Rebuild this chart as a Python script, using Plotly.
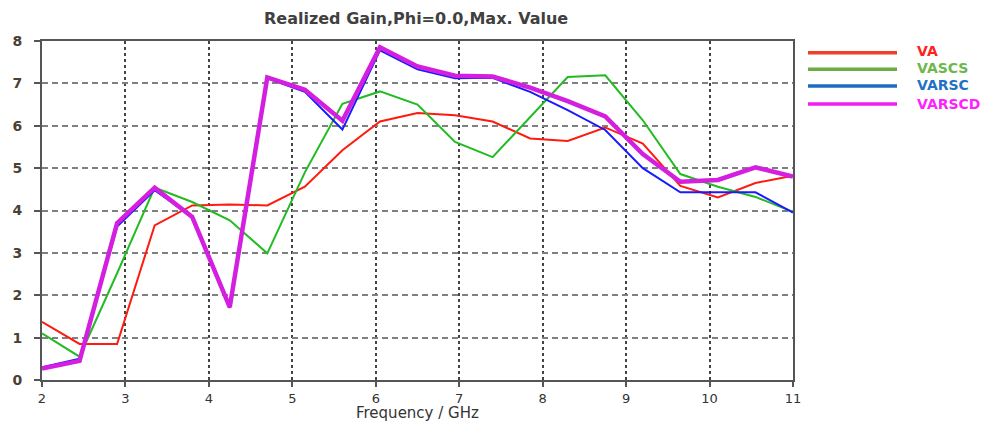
import plotly.graph_objects as go

# ---- data ----
freq = [2.0, 2.45, 2.9, 3.35, 3.8, 4.25, 4.7, 5.15, 5.6, 6.05, 6.5,
        6.95, 7.4, 7.85, 8.3, 8.75, 9.2, 9.65, 10.1, 10.55, 11.0]
va = [1.37, 0.85, 0.85, 3.65, 4.12, 4.14, 4.12, 4.56, 5.42, 6.10, 6.30,
      6.25, 6.10, 5.70, 5.64, 5.96, 5.58, 4.58, 4.31, 4.65, 4.82]
vascs = [1.10, 0.55, 2.52, 4.54, 4.20, 3.77, 2.99, 4.90, 6.52, 6.81, 6.50,
         5.62, 5.26, 6.20, 7.15, 7.19, 6.13, 4.86, 4.56, 4.32, 3.97]
varsc = [0.30, 0.50, 3.62, 4.48, 3.85, 1.70, 7.12, 6.80, 5.91, 7.78, 7.33,
         7.12, 7.13, 6.80, 6.37, 5.90, 5.00, 4.43, 4.43, 4.43, 3.95]
varscd = [0.27, 0.45, 3.70, 4.54, 3.85, 1.72, 7.14, 6.85, 6.12, 7.85, 7.40,
          7.18, 7.16, 6.90, 6.58, 6.22, 5.33, 4.68, 4.72, 5.02, 4.80]

series_names = ["VA", "VASCS", "VARSC", "VARSCD"]
series_values = [va, vascs, varsc, varscd]
line_colors = ["#ff1a10", "#22bb22", "#1a1aff", "#d41ee0"]
line_widths = [2, 2, 2, 4.5]
legend_line_colors = ["#ef3f2a", "#6aac42", "#1f6dc0", "#f01ef0"]
legend_text_colors = ["#ff2020", "#6cb84c", "#1f72c4", "#ff22ff"]

x_ticks = [2, 3, 4, 5, 6, 7, 8, 9, 10, 11]
y_ticks = [0, 1, 2, 3, 4, 5, 6, 7, 8]

W, H = 993, 421
ML, MR, MT, MB = 42, 200, 41, 41
PW = W - ML - MR
PH = H - MT - MB


def px(xp):
    return (xp - ML) / PW


def py(yp):
    return (H - MB - yp) / PH


fig = go.Figure()
for name, vals, c, w in zip(series_names, series_values, line_colors, line_widths):
    fig.add_trace(go.Scatter(x=freq, y=vals, mode="lines", name=name,
                             line=dict(color=c, width=w), showlegend=False))

# custom legend
leg_line_y = [52.7, 69.3, 86.0, 104.0]
leg_text_y = [50.5, 67.5, 85.0, 103.5]
for i, name in enumerate(series_names):
    fig.add_shape(type="line", xref="paper", yref="paper",
                  x0=px(808), x1=px(897), y0=py(leg_line_y[i]), y1=py(leg_line_y[i]),
                  line=dict(color=legend_line_colors[i], width=3.5))
    fig.add_annotation(xref="paper", yref="paper", x=px(915), y=py(leg_text_y[i]),
                       xanchor="left", yanchor="middle", showarrow=False,
                       text="<b>%s</b>" % name,
                       font=dict(family="DejaVu Sans", size=14, color=legend_text_colors[i]))

# x axis title
fig.add_annotation(xref="paper", yref="paper", x=px(417), y=py(413),
                   xanchor="center", yanchor="middle", showarrow=False,
                   text="Frequency / GHz",
                   font=dict(family="DejaVu Sans", size=15, color="#333333"))

# title
fig.add_annotation(xref="paper", yref="paper", x=px(416), y=py(18),
                   xanchor="center", yanchor="middle", showarrow=False,
                   text="Realized Gain,Phi=0.0,Max. Value",
                   font=dict(family="DejaVu Sans", size=16, color="#404040", weight="bold"))

fig.update_layout(
    width=W, height=H,
    margin=dict(l=ML, r=MR, t=MT, b=MB, autoexpand=False),
    paper_bgcolor="white", plot_bgcolor="white",
    xaxis=dict(range=[2, 11], tickvals=x_ticks, ticktext=[str(t) for t in x_ticks],
               showgrid=True, gridcolor="#444444", gridwidth=1.5, griddash="dot",
               showline=True, linecolor="#555555", linewidth=2, mirror=True,
               ticks="outside", ticklen=5, tickcolor="#555555", tickwidth=1.5,
               tickfont=dict(family="DejaVu Sans", size=13, color="#333333"),
               zeroline=False, automargin=False),
    yaxis=dict(range=[0, 8], tickvals=y_ticks, ticktext=[str(t) for t in y_ticks],
               showgrid=True, gridcolor="#808080", gridwidth=1.5, griddash="6px,4px",
               showline=True, linecolor="#555555", linewidth=2, mirror=True,
               ticks="outside", ticklen=6, tickcolor="#555555", tickwidth=1.5,
               ticklabelstandoff=9,
               tickfont=dict(family="DejaVu Sans", size=14, color="#4a4036", weight="bold"),
               zeroline=False, automargin=False),
)

fig.write_html("out.html")
